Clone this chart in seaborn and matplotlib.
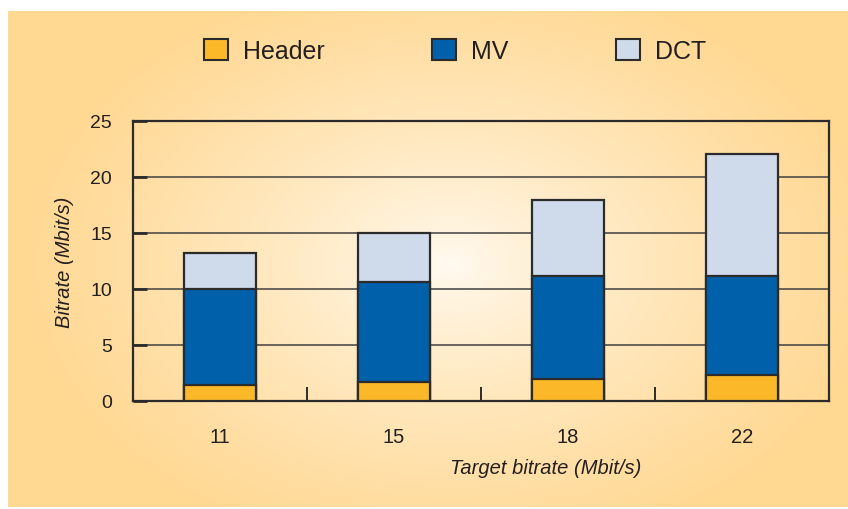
import numpy as np
import pandas as pd
import matplotlib
matplotlib.use("Agg")
import matplotlib.pyplot as plt
from matplotlib.patches import Patch
from matplotlib.colors import to_rgb
from matplotlib.ticker import FixedLocator
import seaborn as sns

# data
targets = ["11", "15", "18", "22"]
header = [1.4, 1.7, 2.0, 2.3]
mv = [8.6, 8.9, 9.2, 8.9]
dct = [3.2, 4.4, 6.75, 10.85]
series_names = ["Header", "MV", "DCT"]
colors = ["#FBB829", "#0060AA", "#CFDAEA"]

df = pd.DataFrame({"target": targets, "Header": header, "MV": mv, "DCT": dct})
df["hdr_top"] = df["Header"]
df["mv_top"] = df["Header"] + df["MV"]
df["dct_top"] = df["mv_top"] + df["DCT"]

sns.set_theme(style="white")
plt.rcParams["font.family"] = ["Liberation Sans", "DejaVu Sans"]
text_col = "#231f20"
edge_col = "#2b2b2b"

fig = plt.figure(figsize=(8.48, 5.10), dpi=100)

# radial gradient background panel
bg = fig.add_axes([8 / 848, 2 / 510, 840 / 848, 496 / 510])
h, w = 496, 840
yy, xx = np.mgrid[0:h, 0:w]
cx, cy = 450 - 8, 265 - 12
d = np.sqrt(((xx - cx) / 430.0) ** 2 + ((yy - cy) / 300.0) ** 2)
d = np.clip(d, 0, 1) ** 0.75
c0 = np.array(to_rgb("#FFFBF3"))
c1 = np.array(to_rgb("#FFD892"))
img = c0[None, None, :] * (1 - d[..., None]) + c1[None, None, :] * d[..., None]
bg.imshow(img, aspect="auto", interpolation="bilinear")
bg.axis("off")

ax = fig.add_axes([133 / 848, 1 - 402 / 510, (829 - 133) / 848, (402 - 122) / 510])
ax.set_facecolor("none")

# stacked bars: draw cumulative tops from tallest down
for col, c in zip(["dct_top", "mv_top", "hdr_top"], colors[::-1]):
    sns.barplot(data=df, x="target", y=col, color=c, width=0.41,
                edgecolor=edge_col, linewidth=1.6, saturation=1, ax=ax, zorder=3)

ax.set_xlim(-0.5, 3.5)
ax.set_ylim(0, 25)
ax.set_yticks([0, 5, 10, 15, 20, 25])
ax.yaxis.grid(True, color="#404040", linewidth=1.1)
ax.set_axisbelow(True)
for s in ax.spines.values():
    s.set_visible(True)
    s.set_color(edge_col)
    s.set_linewidth(1.6)

ax.tick_params(axis="x", which="major", length=0, pad=19, labelsize=14.5, labelcolor=text_col)
ax.xaxis.set_minor_locator(FixedLocator([0.5, 1.5, 2.5]))
ax.tick_params(axis="x", which="minor", direction="in", length=10, width=1.4, color=edge_col, bottom=True)
ax.tick_params(axis="y", direction="in", length=10, width=2, color=edge_col, left=True,
               pad=15, labelsize=14, labelcolor=text_col)

ax.set_xlabel("Target bitrate (Mbit/s)", fontsize=14.5, style="italic", color=text_col)
ax.xaxis.set_label_coords((546 - 133) / (829 - 133), -(459 - 402) / (402 - 122))
ax.set_ylabel("Bitrate (Mbit/s)", fontsize=14.5, style="italic", color=text_col)
ax.yaxis.set_label_coords(-(133 - 74) / (829 - 133), 0.5)

handles = [Patch(facecolor=c, edgecolor=edge_col, linewidth=1.5) for c in colors]
fig.legend(handles, series_names, loc="center", bbox_to_anchor=(455 / 848, 1 - 52 / 510),
           ncol=3, frameon=False, fontsize=18, handlelength=0.95, handleheight=0.95,
           handletextpad=0.6, columnspacing=4.3, labelcolor=text_col)

fig.savefig("out.png", dpi=100, facecolor="white")
